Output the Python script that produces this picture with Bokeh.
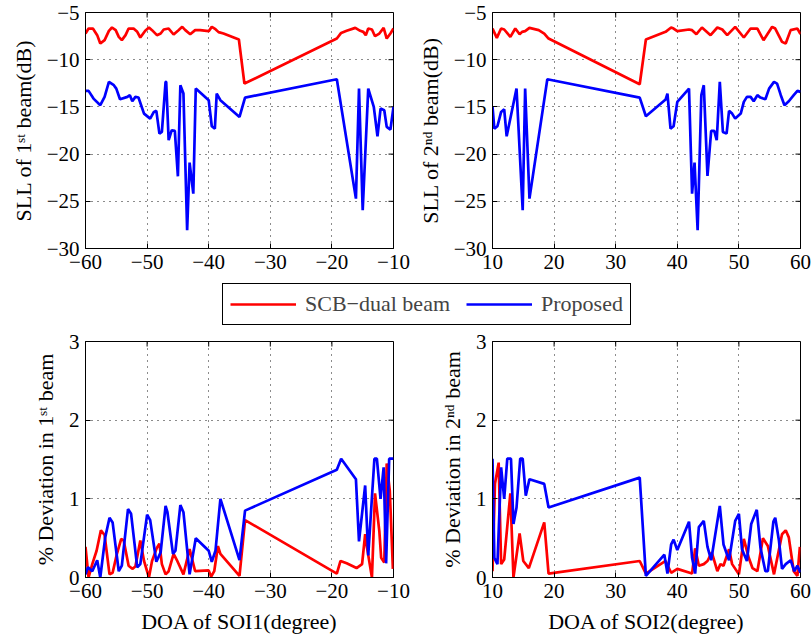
import math
from bokeh.plotting import figure
from bokeh.layouts import column, row
from bokeh.models import (Range1d, FixedTicker, CustomJSTickFormatter,
                          Legend, LegendItem)
from bokeh.embed import file_html
from bokeh.resources import INLINE

# ---------------- data ----------------
# Top-left: SLL of 1st beam vs DOA of SOI1
tl_scb_x = [-60.0, -59.5, -58.8, -58.1, -57.6, -56.9, -56.2, -55.7, -55.1, -54.6,
            -54.1, -53.5, -53.0, -52.2, -51.6, -51.1, -50.3, -49.7, -49.2, -48.4,
            -47.8, -47.3, -46.5, -45.7, -44.9, -44.3, -43.8, -43.0, -42.2, -41.4,
            -40.0, -39.5, -38.9, -38.4, -37.6, -35.1, -34.2, -19.2, -18.5, -17.6,
            -16.2, -15.4, -14.9, -14.5, -14.1, -13.5, -13.0, -12.3, -11.6, -11.1,
            -10.5, -10.0]
tl_scb_y = [-7.23, -6.70, -6.70, -7.40, -8.29, -7.93, -6.94, -6.59, -6.87, -7.58,
            -7.93, -7.40, -6.70, -6.70, -7.05, -7.65, -6.94, -6.59, -6.87, -7.40,
            -7.23, -6.80, -6.70, -7.33, -6.87, -6.52, -6.87, -7.30, -6.87, -6.87,
            -6.98, -6.52, -6.77, -7.08, -7.23, -7.86, -12.53, -7.76, -7.16, -6.94,
            -6.63, -6.94, -7.05, -7.40, -6.70, -6.80, -7.51, -7.23, -6.63, -7.76,
            -7.23, -6.70]
tl_prop_x = [-60.0, -59.5, -58.7, -57.6, -56.9, -56.2, -55.4, -55.0, -54.4, -53.2,
             -52.8, -52.4, -51.9, -51.4, -50.5, -49.5, -48.9, -48.5, -48.0, -47.6,
             -47.0, -46.9, -46.5, -46.0, -45.5, -45.0, -44.6, -44.1, -43.5, -43.1,
             -42.5, -42.1, -40.0, -39.5, -39.0, -38.7, -38.1, -35.0, -34.1, -19.2,
             -16.1, -15.6, -15.0, -14.1, -13.2, -12.6, -12.1, -11.5, -11.1, -10.5,
             -10.0]
tl_prop_y = [-13.30, -13.30, -14.12, -14.82, -13.94, -12.35, -12.70, -13.06, -14.19, -13.94,
             -13.76, -14.40, -13.94, -14.01, -15.71, -16.24, -15.53, -15.42, -17.83, -17.65,
             -12.35, -12.35, -18.53, -17.47, -17.54, -22.35, -12.70, -13.59, -28.07, -20.90,
             -24.19, -13.06, -14.29, -17.05, -17.30, -13.59, -14.29, -16.06, -14.01, -12.07,
             -24.72, -13.06, -25.95, -13.06, -15.00, -18.11, -15.18, -15.35, -17.12, -17.40,
             -15.00]

# Top-right: SLL of 2nd beam vs DOA of SOI2
tr_scb_x = [10.0, 10.7, 11.4, 11.9, 12.9, 13.7, 14.4, 14.8, 15.3, 16.0,
            17.5, 18.4, 19.1, 33.9, 34.9, 38.1, 39.0, 39.4, 40.0, 41.9,
            42.4, 43.1, 44.0, 45.4, 46.5, 47.3, 48.1, 49.4, 50.8, 51.9,
            53.0, 54.0, 55.4, 55.9, 57.0, 57.6, 58.4, 59.5, 60.0]
tr_scb_y = [-6.70, -7.69, -6.70, -6.80, -7.58, -6.70, -7.30, -7.05, -6.98, -6.63,
            -6.87, -7.23, -7.76, -12.60, -7.86, -7.05, -6.59, -6.70, -6.98, -6.80,
            -6.87, -7.30, -6.59, -7.40, -6.59, -6.80, -7.40, -6.52, -7.65, -6.70,
            -6.70, -7.93, -6.52, -6.70, -8.11, -8.29, -6.87, -6.70, -7.30]
tr_prop_x = [10.0, 10.3, 10.8, 11.4, 11.9, 12.3, 13.9, 14.9, 15.3, 16.0,
             18.9, 33.9, 34.9, 38.1, 38.4, 38.9, 39.4, 40.0, 41.9, 42.4,
             42.8, 43.3, 43.9, 44.3, 44.9, 45.5, 46.0, 46.4, 46.9, 47.4,
             48.0, 48.4, 48.9, 49.4, 50.3, 50.8, 51.3, 51.9, 52.4, 53.0,
             53.5, 54.3, 54.9, 55.7, 56.2, 56.8, 57.4, 58.1, 58.9, 59.5,
             60.0]
tr_prop_y = [-14.93, -17.30, -17.05, -15.53, -15.25, -18.11, -13.06, -25.95, -13.06, -24.72,
             -12.07, -14.01, -15.99, -14.22, -13.59, -17.30, -17.05, -14.47, -13.06, -24.19,
             -20.90, -28.07, -13.76, -12.70, -22.31, -17.54, -17.54, -18.53, -12.35, -17.65,
             -17.83, -15.42, -15.71, -16.24, -15.71, -14.47, -13.94, -13.94, -14.40, -13.76,
             -14.01, -14.19, -13.06, -12.35, -12.53, -13.76, -14.82, -14.40, -13.76, -13.30,
             -13.41]

# Bottom-left: % deviation in 1st beam vs DOA of SOI1
bl_scb_x = [-60.0, -59.5, -58.9, -58.2, -57.5, -56.9, -56.1, -55.6, -54.9, -54.2,
            -53.8, -53.0, -52.4, -51.9, -51.1, -50.5, -49.7, -49.2, -48.4, -48.0,
            -47.6, -47.0, -46.5, -45.7, -45.1, -44.1, -43.1, -42.2, -40.0, -39.6,
            -39.1, -38.5, -38.1, -35.0, -34.1, -19.2, -18.6, -17.6, -16.0, -15.1,
            -14.6, -14.3, -13.5, -13.0, -12.3, -12.0, -11.5, -11.1, -10.6, -10.1]
bl_scb_y = [0.39, 0.00, 0.17, 0.34, 0.60, 0.54, 0.04, 0.06, 0.30, 0.49,
            0.47, 0.15, 0.11, 0.14, 0.47, 0.21, 0.00, 0.21, 0.38, 0.43,
            0.17, 0.04, 0.08, 0.30, 0.21, 0.04, 0.36, 0.08, 0.09, 0.01,
            0.08, 0.40, 0.30, 0.02, 0.73, 0.05, 0.21, 0.18, 0.12, 0.17,
            0.55, 0.38, 0.00, 1.07, 0.59, 0.25, 0.19, 1.45, 1.10, 0.11]
bl_prop_x = [-60.0, -59.6, -58.9, -58.1, -57.6, -56.8, -56.1, -55.6, -54.6, -54.1,
             -53.1, -52.6, -51.6, -51.1, -50.0, -49.5, -48.5, -47.8, -47.0, -46.7,
             -45.8, -45.4, -44.6, -44.1, -43.1, -42.1, -40.0, -39.5, -38.9, -38.1,
             -35.0, -34.1, -19.2, -18.5, -16.1, -15.6, -14.6, -14.1, -13.1, -12.7,
             -12.1, -11.6, -11.2, -10.7, -10.0]
bl_prop_y = [0.04, 0.13, 0.08, 0.22, 0.00, 0.51, 0.76, 0.70, 0.08, 0.15,
             0.87, 0.81, 0.13, 0.17, 0.80, 0.73, 0.20, 0.32, 0.91, 0.83,
             0.30, 0.34, 0.92, 0.83, 0.04, 0.50, 0.34, 0.20, 0.34, 1.00,
             0.22, 0.85, 1.37, 1.51, 1.25, 0.46, 1.17, 0.28, 1.51, 1.51,
             1.00, 1.40, 0.18, 1.51, 1.51]

# Bottom-right: % deviation in 2nd beam vs DOA of SOI2
br_scb_x = [10.0, 10.4, 11.0, 11.4, 11.9, 12.9, 13.4, 14.4, 15.0, 15.9,
            18.4, 19.1, 33.9, 34.9, 38.1, 39.0, 40.0, 42.4, 42.9, 43.5,
            44.3, 44.9, 45.6, 46.5, 47.0, 47.5, 48.4, 48.9, 50.0, 50.8,
            51.6, 52.2, 53.0, 53.9, 54.7, 55.7, 57.0, 57.6, 58.1, 58.9,
            59.5, 59.9]
br_scb_y = [0.08, 1.19, 1.46, 0.17, 0.23, 1.07, 0.00, 0.56, 0.21, 0.12,
            0.70, 0.05, 0.21, 0.05, 0.21, 0.06, 0.11, 0.05, 0.37, 0.15,
            0.17, 0.21, 0.32, 0.08, 0.17, 0.15, 0.36, 0.17, 0.04, 0.49,
            0.25, 0.12, 0.08, 0.50, 0.40, 0.04, 0.55, 0.60, 0.51, 0.08,
            0.02, 0.39]
br_prop_x = [10.0, 10.3, 10.8, 11.4, 11.9, 12.4, 13.0, 13.4, 13.9, 14.5,
             14.9, 15.4, 16.0, 18.4, 19.1, 33.9, 34.9, 37.9, 38.4, 39.0,
             39.4, 40.0, 41.9, 42.4, 42.9, 43.5, 44.3, 44.9, 45.5, 46.9,
             47.5, 48.4, 49.4, 50.0, 50.5, 51.3, 52.0, 52.9, 53.5, 54.3,
             54.7, 55.6, 55.9, 56.5, 57.0, 57.6, 58.4, 59.0, 59.5, 60.0]
br_prop_y = [1.51, 0.25, 0.17, 1.40, 1.00, 1.51, 1.51, 0.68, 0.89, 1.51,
             1.51, 1.04, 1.25, 1.19, 0.89, 1.27, 0.02, 0.29, 0.05, 0.42,
             0.48, 0.35, 0.71, 0.25, 0.05, 0.64, 0.72, 0.39, 0.22, 0.91,
             0.42, 0.22, 0.72, 0.81, 0.36, 0.21, 0.68, 0.86, 0.38, 0.08,
             0.08, 0.71, 0.76, 0.47, 0.11, 0.17, 0.22, 0.08, 0.15, 0.06]

xticks_left = [-60, -50, -40, -30, -20, -10]
xticks_right = [10, 20, 30, 40, 50, 60]
yticks_sll = [-30, -25, -20, -15, -10, -5]
yticks_dev = [0, 1, 2, 3]

series_names = ["SCB\u2212dual beam", "Proposed"]
series_colors = ["#ff0000", "#0000ff"]

FONT = "Liberation Serif"
LW = 2.7
TICK = 5


def make_fig(w, h, xr, yr, xticks, yticks, ml, mr, mt, mb, xlabel, ylabel):
    p = figure(width=w, height=h, x_range=Range1d(*xr), y_range=Range1d(*yr),
               output_backend="svg", toolbar_location=None,
               min_border_left=ml, min_border_right=mr,
               min_border_top=mt, min_border_bottom=mb)
    p.outline_line_color = "black"
    p.outline_line_alpha = 1.0
    p.outline_line_width = 1
    fmt = CustomJSTickFormatter(
        code="return (tick < 0 ? '\\u2212' : '') + Math.abs(tick).toString();")
    p.xaxis.ticker = FixedTicker(ticks=xticks)
    p.yaxis.ticker = FixedTicker(ticks=yticks)
    p.xaxis.formatter = fmt
    p.yaxis.formatter = fmt
    for ax in list(p.xaxis) + list(p.yaxis):
        ax.major_label_text_font = FONT
        ax.major_label_text_font_size = "21px"
        ax.major_label_text_color = "black"
        ax.axis_label_text_font = FONT
        ax.axis_label_text_font_size = "22px"
        ax.axis_label_text_font_style = "normal"
        ax.axis_label_text_color = "black"
        ax.axis_line_color = "black"
        ax.major_tick_in = TICK
        ax.major_tick_out = 0
        ax.major_tick_line_color = "black"
        ax.minor_tick_in = 0
        ax.minor_tick_out = 0
        ax.major_label_standoff = 6
        ax.axis_label_standoff = 8
    if xlabel:
        p.xaxis.axis_label = xlabel
    if ylabel:
        p.yaxis.axis_label = ylabel
    p.grid.grid_line_color = "black"
    p.grid.grid_line_dash = "1 5"
    p.grid.grid_line_alpha = 0.9
    # inward ticks on the top and right edges of the box
    p.ray(x=xticks, y=[yr[1]] * len(xticks), length=TICK, length_units="screen",
          angle=-math.pi / 2, line_color="black", line_width=1)
    p.ray(x=[xr[1]] * len(yticks), y=yticks, length=TICK, length_units="screen",
          angle=math.pi, line_color="black", line_width=1)
    return p


p1 = make_fig(412, 282, (-60, -10), (-30, -5), xticks_left, yticks_sll,
              85, 19, 12, 34, None, "SLL of 1\u02e2\u1d57 beam(dB)")
p2 = make_fig(400, 282, (10, 60), (-30, -5), xticks_right, yticks_sll,
              80, 12, 12, 34, None, "SLL of 2\u207f\u1d48 beam(dB)")
p3 = make_fig(412, 307, (-60, -10), (0, 3), xticks_left, yticks_dev,
              85, 19, 11, 60, "DOA of SOI1(degree)", "% Deviation in 1\u02e2\u1d57 beam")
p4 = make_fig(400, 307, (10, 60), (0, 3), xticks_right, yticks_dev,
              80, 12, 11, 60, "DOA of SOI2(degree)", "% Deviation in 2\u207f\u1d48 beam")

panels = [
    (p1, [tl_scb_x, tl_prop_x], [tl_scb_y, tl_prop_y]),
    (p2, [tr_scb_x, tr_prop_x], [tr_scb_y, tr_prop_y]),
    (p3, [bl_scb_x, bl_prop_x], [bl_scb_y, bl_prop_y]),
    (p4, [br_scb_x, br_prop_x], [br_scb_y, br_prop_y]),
]
for p, xs, ys in panels:
    for x, y, c in zip(xs, ys, series_colors):
        p.line(x, y, line_color=c, line_width=LW)

# legend strip
lf = figure(width=812, height=48, x_range=Range1d(0, 1), y_range=Range1d(0, 1),
            output_backend="svg", toolbar_location=None, min_border=0,
            x_axis_location=None, y_axis_location=None)
lf.grid.visible = False
lf.outline_line_color = None
items = []
for name, c in zip(series_names, series_colors):
    r = lf.line(x=[float("nan")], y=[float("nan")], line_color=c, line_width=LW)
    items.append(LegendItem(label=name, renderers=[r]))
leg = Legend(items=items, orientation="horizontal", location=(222, 5),
             label_text_font=FONT, label_text_font_size="22px",
             glyph_width=66, glyph_height=20, label_standoff=9, spacing=16,
             padding=7, margin=0, border_line_color="black", border_line_width=1,
             border_line_alpha=1.0, background_fill_color="white")
lf.add_layout(leg, "center")

layout = column(row(p1, p2), lf, row(p3, p4))
open("out.html", "w").write(file_html(layout, INLINE))
